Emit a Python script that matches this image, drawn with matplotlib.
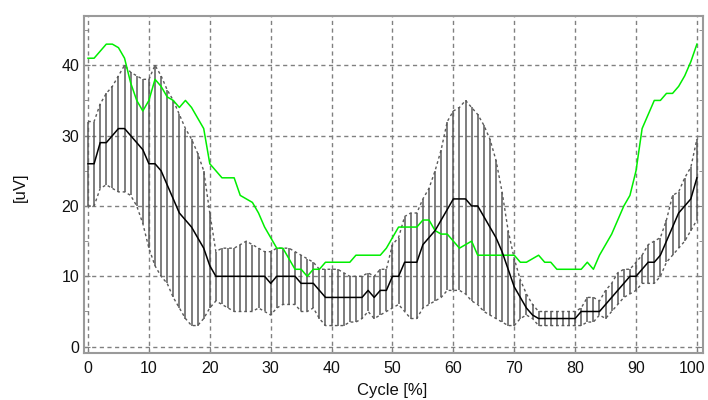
import numpy as np
import matplotlib
matplotlib.use("Agg")
import matplotlib.pyplot as plt
from matplotlib.ticker import MultipleLocator
from matplotlib.transforms import ScaledTranslation

cycle = np.arange(0, 101)

mean_uv = [26, 26, 29, 29, 30, 31, 31, 30, 29, 28,
           26, 26, 25, 23, 21, 19, 18, 17, 15.5, 14,
           11.5, 10, 10, 10, 10, 10, 10, 10, 10, 10,
           9, 10, 10, 10, 10, 9, 9, 9, 8, 7,
           7, 7, 7, 7, 7, 7, 8, 7, 8, 8,
           10, 10, 12, 12, 12, 14.5, 15.5, 16.5, 18, 19.5,
           21, 21, 21, 20, 20, 18.5, 17, 15.5, 13.5, 11,
           8.5, 7, 5.5, 4.5, 4, 4, 4, 4, 4, 4,
           4, 5, 5, 5, 5, 6, 7, 8, 9, 10,
           10, 11, 12, 12, 13, 15, 17, 19, 20, 21,
           24]

upper_uv = [32, 32, 34.5, 36, 37, 38.5, 40, 39, 38.5, 38,
            38, 40, 38.5, 36.5, 35, 33, 31, 29.5, 27.5, 25,
            19, 13.5, 14, 14, 14, 14.5, 15, 14.5, 14, 13.5,
            13.5, 14, 14, 14, 13.5, 13, 12.5, 12, 11, 11,
            11, 11, 10.5, 10, 10, 10, 10.5, 10, 11, 11,
            14.5, 15.5, 18.5, 19, 19, 21, 22.5, 25, 28, 32,
            33.5, 34, 35, 34, 33, 31.5, 29.5, 26.5, 22, 16.5,
            12.5, 9.5, 7.5, 6, 5, 5, 5, 5, 5, 5,
            5, 5.5, 7, 7, 6.5, 8, 9, 10.5, 11, 11,
            12, 13, 14.5, 15, 15.5, 18, 21.5, 22, 24, 25.5,
            29.5]

lower_uv = [20, 20, 22.5, 23, 22.5, 22, 22, 21.5, 20, 17.5,
            14, 11.5, 10, 9, 7, 5.5, 4, 3, 3, 4,
            5.5, 6.5, 6, 5.5, 5, 5, 5, 5, 5.5, 5,
            4.5, 5.5, 6, 6, 6, 5, 5, 5.5, 4, 3,
            3, 3, 3, 3.5, 3.5, 4, 5, 4, 4.5, 5,
            5.5, 6, 5, 4, 4, 5.5, 6, 6.5, 7, 8,
            8, 8, 7.5, 6.5, 6, 5, 4.5, 4, 3.5, 3,
            3, 4, 4.5, 4, 3, 3, 3, 3, 3, 3,
            3, 3, 3.5, 3.5, 4.5, 4, 5, 6, 7, 7.5,
            8, 9, 9, 9, 10, 12, 13, 14, 15, 16.5,
            18]

green_uv = [41, 41, 42, 43, 43, 42.5, 41, 37.5, 35, 33.5,
            35, 38, 37, 35.5, 35, 34, 35, 34, 32.5, 31,
            26, 25, 24, 24, 24, 21.5, 21, 20.5, 19, 17,
            15.5, 14, 14, 12.5, 11, 11, 10, 11, 11, 12,
            12, 12, 12, 12, 13, 13, 13, 13, 13, 14,
            15.5, 17, 17, 17, 17, 18, 18, 16.5, 16, 16,
            15, 14, 14.5, 15, 13, 13, 13, 13, 13, 13,
            13, 12, 12, 12.5, 13, 12, 12, 11, 11, 11,
            11, 11, 12, 11, 13, 14.5, 16, 18, 20, 21.5,
            25, 31, 33, 35, 35, 36, 36, 37, 38.5, 40.5,
            43]

fig = plt.figure(figsize=(7.08, 4.0), dpi=100)
ax = fig.add_axes([84 / 708, 47 / 400, 619 / 708, 337 / 400])

band_col = "#5a5a5a"
ax.vlines(cycle, lower_uv, upper_uv, color=band_col, lw=1.1, zorder=2)
ax.plot(cycle, upper_uv, color=band_col, lw=1.0, ls=(0, (2, 2)), zorder=2)
ax.plot(cycle, lower_uv, color=band_col, lw=1.0, ls=(0, (2, 2)), zorder=2)
ax.plot(cycle, green_uv, color="#00ee00", lw=1.1, zorder=3)
ax.plot(cycle, mean_uv, color="black", lw=1.1, zorder=4)

ax.set_xlim(-0.66, 101.0)
ax.set_ylim(-0.9, 47)
ax.xaxis.set_major_locator(MultipleLocator(10))
ax.yaxis.set_major_locator(MultipleLocator(10))
ax.yaxis.set_minor_locator(MultipleLocator(5))
ax.grid(True, which="major", color="#808080", lw=1.0, ls=(0, (3, 2.5)), zorder=1)
ax.set_axisbelow(True)

ax.tick_params(which="both", direction="in", top=False, right=True,
               color="#808080", labelsize=11.5, labelcolor="#111111")
ax.tick_params(axis="x", pad=6)
ax.tick_params(axis="y", pad=3.5)
ax.tick_params(which="major", length=4)
ax.tick_params(which="minor", length=3)
for lab in ax.get_xticklabels() + ax.get_yticklabels():
    lab.set_family("Liberation Sans")
for sp in ax.spines.values():
    sp.set_color("#9a9a9a")
    sp.set_linewidth(1.5)

# the "100" label sits on the right edge, nudge it in a little so it isn't clipped
fig.canvas.draw()
last = [t for t in ax.get_xticklabels() if t.get_text() == "100"]
for t in last:
    t.set_transform(t.get_transform() + ScaledTranslation(-5 / 100, 0, fig.dpi_scale_trans))

fig.text(20 / 708, 1 - 187 / 400, "[uV]", rotation=90, ha="center", va="center",
         fontsize=12, family="Liberation Sans", color="#111111")
fig.text(392 / 708, 1 - 391 / 400, "Cycle [%]", ha="center", va="center",
         fontsize=12, family="Liberation Sans", color="#111111")

fig.savefig("out.png", dpi=100)
